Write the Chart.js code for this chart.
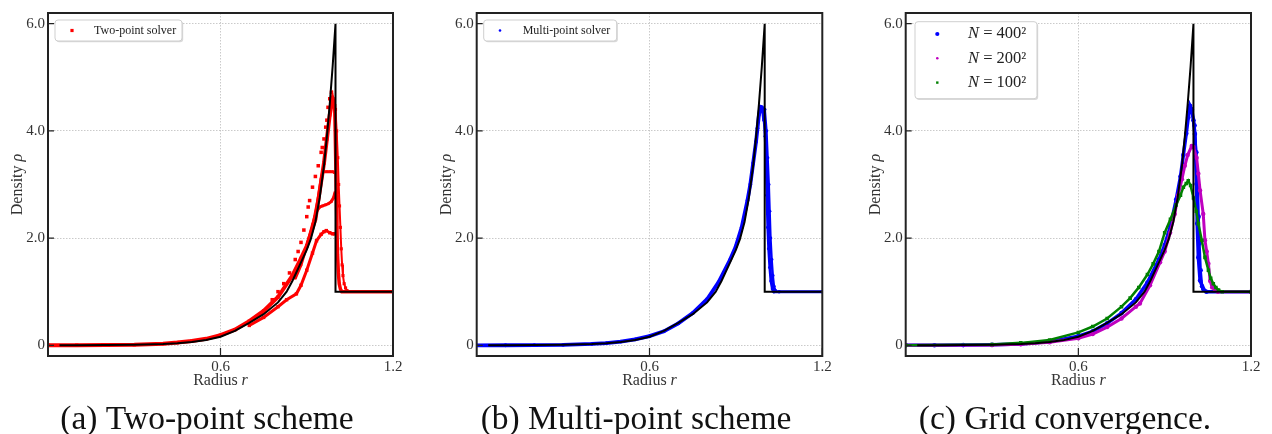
<!DOCTYPE html>
<html>
<head>
<meta charset="utf-8">
<script src="https://cdn.jsdelivr.net/npm/chart.js@4.4.1/dist/chart.umd.min.js"></script>
<style>
  html, body { margin: 0; padding: 0; background: #fff; overflow: hidden; }
  canvas { position: absolute; top: 0; }
</style>
</head>
<body>
<canvas id="panelA" style="left:0px" width="414" height="434"></canvas>
<canvas id="panelB" style="left:414px" width="444" height="434"></canvas>
<canvas id="panelC" style="left:858px" width="414" height="434"></canvas>
<script>
// axes
const xTicks = [0.6, 1.2];
const yTicks = [0, 2, 4, 6];

// exact solution (black line)
const exactR   = [0.04, 0.1, 0.2, 0.3, 0.4, 0.45, 0.5, 0.55, 0.6, 0.65, 0.7, 0.75, 0.8, 0.83, 0.85, 0.876, 0.9, 0.914, 0.93, 0.945, 0.96, 0.971, 0.98, 0.99, 1.0, 1.0, 1.2];
const exactRho = [0, 0.001, 0.003, 0.008, 0.022, 0.037, 0.062, 0.1, 0.16, 0.27, 0.42, 0.58, 0.8, 1.0, 1.2, 1.5, 1.78, 1.98, 2.3, 2.75, 3.35, 3.95, 4.5, 5.2, 6.0, 1.0, 1.0];

// (a) two-point solver, the branches of the scatter cloud
const twoMainR     = [0, 0.1, 0.2, 0.3, 0.4, 0.45, 0.5, 0.55, 0.6, 0.65, 0.7, 0.75, 0.8, 0.85, 0.88, 0.9, 0.93, 0.96, 0.97, 0.98, 0.99, 0.995];
const twoMainRho   = [0, 0.002, 0.004, 0.01, 0.03, 0.05, 0.08, 0.12, 0.19, 0.29, 0.45, 0.64, 0.9, 1.3, 1.62, 1.85, 2.35, 3.4, 3.85, 4.3, 4.6, 4.5];
const twoUpperR    = [0.78, 0.8, 0.82, 0.84, 0.86, 0.87, 0.88, 0.89, 0.9, 0.905, 0.91, 0.92, 0.93, 0.94, 0.95, 0.954, 0.96, 0.966, 0.97, 0.974, 0.98, 0.986, 0.99];
const twoUpperRho  = [0.85, 1.0, 1.15, 1.35, 1.6, 1.75, 1.92, 2.15, 2.4, 2.58, 2.7, 2.95, 3.15, 3.35, 3.6, 3.69, 3.85, 4.07, 4.2, 4.44, 4.6, 4.72, 4.6];
const twoFlatR     = [0.9, 0.92, 0.94, 0.95, 0.955, 0.96, 0.97, 0.98, 0.99, 0.997];
const twoFlatRho   = [1.85, 2.2, 2.75, 3.1, 3.22, 3.24, 3.24, 3.24, 3.24, 3.22];
const twoMidR      = [0.86, 0.88, 0.9, 0.92, 0.934, 0.945, 0.955, 0.965, 0.975, 0.985, 0.993, 0.998];
const twoMidRho    = [1.25, 1.5, 1.85, 2.25, 2.5, 2.58, 2.6, 2.62, 2.64, 2.68, 2.75, 2.85];
const twoLowR      = [0.7, 0.75, 0.8, 0.83, 0.864, 0.88, 0.9, 0.92, 0.934, 0.95, 0.96, 0.968, 0.98, 0.99, 0.997];
const twoLowRho    = [0.37, 0.52, 0.72, 0.85, 0.96, 1.12, 1.4, 1.72, 1.95, 2.07, 2.12, 2.14, 2.1, 2.08, 2.08];
const twoTailR     = [0.997, 0.999, 1.001, 1.003, 1.005, 1.007, 1.01, 1.013, 1.017, 1.022, 1.03, 1.04, 1.08, 1.2];
const twoTailRho   = [4.5, 4.0, 3.4, 2.8, 2.2, 1.7, 1.35, 1.15, 1.05, 1.0, 1.0, 1.0, 1.0, 1.0];
const twoOuterR    = [1.0, 1.004, 1.008, 1.011, 1.014, 1.017, 1.02, 1.023, 1.026, 1.03, 1.035, 1.04];
const twoOuterRho  = [4.4, 4.0, 3.5, 3.0, 2.6, 2.2, 1.8, 1.5, 1.3, 1.15, 1.07, 1.02];

// (b) multi-point solver
const multiR      = [0, 0.1, 0.2, 0.3, 0.4, 0.45, 0.5, 0.55, 0.6, 0.65, 0.7, 0.75, 0.8, 0.84, 0.88, 0.9, 0.92, 0.94, 0.95, 0.96, 0.97, 0.975, 0.98, 0.985, 0.99, 0.995, 0.998];
const multiRho    = [0, 0.001, 0.003, 0.008, 0.025, 0.04, 0.07, 0.11, 0.17, 0.26, 0.41, 0.6, 0.86, 1.18, 1.6, 1.85, 2.2, 2.7, 3.0, 3.4, 3.8, 4.05, 4.3, 4.45, 4.44, 4.35, 4.2];
const multiTailR   = [0.997, 1.002, 1.005, 1.008, 1.011, 1.014, 1.018, 1.022, 1.027, 1.032, 1.05, 1.2];
const multiTailRho = [4.3, 3.9, 3.4, 2.8, 2.2, 1.8, 1.45, 1.2, 1.05, 1.0, 1.0, 1.0];
const multiOuterR   = [1.0, 1.006, 1.01, 1.014, 1.017, 1.02, 1.024, 1.028, 1.032, 1.037];
const multiOuterRho = [4.4, 4.0, 3.5, 3.0, 2.5, 2.0, 1.6, 1.3, 1.1, 1.02];

// (c) grid convergence
const n400R   = [0, 0.1, 0.2, 0.3, 0.4, 0.5, 0.6, 0.65, 0.7, 0.75, 0.8, 0.84, 0.88, 0.9, 0.92, 0.94, 0.955, 0.965, 0.975, 0.982, 0.988, 0.994, 1.0, 1.005, 1.011, 1.013, 1.017, 1.023, 1.034, 1.045, 1.2];
const n400Rho = [0, 0.001, 0.003, 0.008, 0.024, 0.068, 0.17, 0.26, 0.41, 0.6, 0.86, 1.17, 1.6, 1.87, 2.22, 2.72, 3.15, 3.55, 3.95, 4.25, 4.47, 4.4, 4.2, 3.94, 3.01, 2.27, 1.64, 1.21, 1.05, 1.0, 1.0];
const n400OuterR   = [0.994, 1.004, 1.01, 1.015, 1.018, 1.021, 1.025, 1.03];
const n400OuterRho = [4.4, 4.1, 3.6, 3.0, 2.4, 1.9, 1.4, 1.1];
const n200R   = [0, 0.3, 0.4, 0.5, 0.6, 0.65, 0.7, 0.75, 0.8, 0.814, 0.849, 0.884, 0.9, 0.919, 0.935, 0.947, 0.96, 0.97, 0.98, 0.994, 1.0, 1.011, 1.017, 1.023, 1.034, 1.04, 1.046, 1.052, 1.058, 1.065, 1.075, 1.085, 1.2];
const n200Rho = [0, 0.006, 0.02, 0.055, 0.13, 0.21, 0.34, 0.5, 0.72, 0.78, 1.12, 1.55, 1.75, 2.1, 2.45, 2.8, 3.1, 3.35, 3.55, 3.72, 3.7, 3.5, 3.2, 2.89, 2.45, 1.96, 1.75, 1.52, 1.2, 1.08, 1.03, 1.0, 1.0];
const n100R   = [0, 0.3, 0.4, 0.5, 0.6, 0.65, 0.7, 0.75, 0.78, 0.81, 0.84, 0.86, 0.88, 0.9, 0.92, 0.94, 0.955, 0.965, 0.975, 0.982, 0.99, 1.0, 1.01, 1.017, 1.029, 1.04, 1.052, 1.06, 1.069, 1.078, 1.087, 1.1, 1.2];
const n100Rho = [0, 0.015, 0.045, 0.1, 0.24, 0.35, 0.5, 0.72, 0.88, 1.08, 1.32, 1.52, 1.75, 2.1, 2.35, 2.62, 2.8, 2.95, 3.02, 3.07, 2.98, 2.75, 2.5, 2.27, 1.96, 1.64, 1.4, 1.25, 1.15, 1.08, 1.03, 1.0, 1.0];

const serif = "'Liberation Serif', 'DejaVu Serif', serif";
const pts = (rs, vs) => rs.map((r, i) => ({ x: r, y: vs[i] }));

const exactSet = () => ({
  data: pts(exactR, exactRho), showLine: true, borderColor: '#000', borderWidth: 2,
  pointRadius: 0, order: 0
});
const cloud = (rs, vs, color, opt) => Object.assign({
  data: pts(rs, vs), showLine: true, borderColor: color, backgroundColor: color,
  pointBackgroundColor: color, pointBorderWidth: 0, borderWidth: 2.5,
  pointStyle: 'rect', pointRadius: 1.8, order: 1
}, opt || {});

function drawMixed(ctx, parts, cx, cy, baseline) {
  let w = 0;
  parts.forEach(p => { ctx.font = p[1]; w += ctx.measureText(p[0]).width; });
  let xx = cx - w / 2;
  ctx.textAlign = 'left';
  ctx.textBaseline = baseline || 'middle';
  parts.forEach(p => { ctx.font = p[1]; ctx.fillText(p[0], xx, cy); xx += ctx.measureText(p[0]).width; });
}

// frame, inward ticks, axis titles, caption and the boxed legend
const decor = {
  id: 'decor',
  afterDraw(chart, args, opts) {
    const { ctx, chartArea: a, scales: { x, y } } = chart;
    ctx.save();
    ctx.strokeStyle = '#222';
    ctx.lineWidth = 1.2;
    ctx.beginPath();
    x.ticks.forEach(t => { const px = x.getPixelForValue(t.value); ctx.moveTo(px, a.bottom); ctx.lineTo(px, a.bottom - 8); });
    y.ticks.forEach(t => { const py = y.getPixelForValue(t.value); ctx.moveTo(a.left, py); ctx.lineTo(a.left + 6, py); });
    ctx.stroke();
    ctx.lineWidth = 2;
    ctx.strokeRect(a.left, a.top, a.right - a.left, a.bottom - a.top);

    ctx.fillStyle = '#333';
    drawMixed(ctx, [['Radius ', '16px ' + serif], ['r', 'italic 16px ' + serif]], (a.left + a.right) / 2, a.bottom + 25);
    ctx.save();
    ctx.translate(a.left - 30, (a.top + a.bottom) / 2);
    ctx.rotate(-Math.PI / 2);
    drawMixed(ctx, [['Density ', '16px ' + serif], ['\u03c1', 'italic 16px ' + serif]], 0, 0);
    ctx.restore();

    // caption under the panel
    ctx.fillStyle = '#111';
    drawMixed(ctx, [[opts.caption, '33.5px ' + serif]], opts.capX, 429, 'alphabetic');

    // legend
    const bx = a.left + opts.dx, by = a.top + opts.dy;
    ctx.fillStyle = 'rgba(0,0,0,0.15)';
    ctx.beginPath(); ctx.roundRect(bx + 1.2, by + 1.2, opts.w, opts.h, 3); ctx.fill();
    ctx.fillStyle = '#fff';
    ctx.strokeStyle = '#cfcfcf';
    ctx.lineWidth = 1;
    ctx.beginPath(); ctx.roundRect(bx, by, opts.w, opts.h, 3); ctx.fill(); ctx.stroke();
    chart.data.datasets.filter(d => d.inLegend).forEach((d, i) => {
      const ry = by + opts.row0 + i * opts.rowH;
      const mx = bx + opts.markX;
      ctx.fillStyle = d.pointBackgroundColor;
      ctx.beginPath();
      if (d.pointStyle === 'circle') ctx.arc(mx, ry, d.legendR, 0, Math.PI * 2);
      else ctx.rect(mx - d.legendR, ry - d.legendR, d.legendR * 2, d.legendR * 2);
      ctx.fill();
      ctx.fillStyle = '#222';
      const fs = opts.fontSize + 'px ' + serif;
      let parts = [[d.label, fs]];
      if (d.label.startsWith('N ')) parts = [['N', 'italic ' + fs], [d.label.slice(1), fs]];
      let w = 0;
      parts.forEach(p => { ctx.font = p[1]; w += ctx.measureText(p[0]).width; });
      drawMixed(ctx, parts, bx + opts.textX + w / 2, ry);
    });
    ctx.restore();
  }
};

function panel(id, datasets, plotLeft, padRight, decorOpts) {
  return new Chart(document.getElementById(id), {
    type: 'scatter',
    data: { datasets },
    options: {
      responsive: false,
      animation: false,
      layout: { padding: { left: 0, right: padRight, top: 13, bottom: 34 } },
      scales: {
        x: {
          type: 'linear', min: 0, max: 1.2,
          afterBuildTicks: s => { s.ticks = xTicks.map(v => ({ value: v })); },
          afterFit: s => { s.height = 44; },
          ticks: { callback: v => v.toFixed(1), font: { family: serif, size: 15 }, color: '#333', padding: 2, maxRotation: 0 },
          grid: { color: '#bdbdbd', lineWidth: 0.8, drawTicks: false },
          border: { display: false, dash: [1.5, 1.5] }
        },
        y: {
          type: 'linear', min: -0.2, max: 6.2,
          afterBuildTicks: s => { s.ticks = yTicks.map(v => ({ value: v })); },
          afterFit: s => { s.width = plotLeft; },
          ticks: { callback: v => v === 0 ? '0' : v.toFixed(1), font: { family: serif, size: 15 }, color: '#333', padding: 3 },
          grid: { color: '#bdbdbd', lineWidth: 0.8, drawTicks: false },
          border: { display: false, dash: [1.5, 1.5] }
        }
      },
      plugins: {
        legend: { display: false },
        tooltip: { enabled: false },
        decor: decorOpts
      }
    },
    plugins: [decor]
  });
}

const red = '#ff0000', blue = '#0000ff', magenta = '#bf00bf', green = '#008000';

panel('panelA', [
  exactSet(),
  cloud(twoMainR, twoMainRho, red, { label: 'Two-point solver', inLegend: true, legendR: 1.6, borderWidth: 4, pointRadius: 2.4 }),
  cloud(twoUpperR, twoUpperRho, red, { showLine: false, pointRadius: 2.5 }),
  cloud(twoFlatR, twoFlatRho, red, { borderWidth: 3 }),
  cloud(twoMidR, twoMidRho, red, { borderWidth: 3 }),
  cloud(twoLowR, twoLowRho, red, { borderWidth: 3, pointRadius: 2.4 }),
  cloud(twoTailR, twoTailRho, red, { borderWidth: 3.5 }),
  cloud(twoOuterR, twoOuterRho, red, { borderWidth: 2, pointRadius: 2.2 })
], 48, 21, { caption: '(a) Two-point scheme', capX: 207, dx: 7, dy: 7, w: 127, h: 21, row0: 10.5, rowH: 0, markX: 17, textX: 39, fontSize: 12 });

panel('panelB', [
  exactSet(),
  cloud(multiR, multiRho, blue, { label: 'Multi-point solver', inLegend: true, legendR: 1.3, pointStyle: 'circle', pointRadius: 1.9, borderWidth: 3.8 }),
  cloud(multiTailR, multiTailRho, blue, { pointStyle: 'circle', pointRadius: 1.8, borderWidth: 3 }),
  cloud(multiOuterR, multiOuterRho, blue, { pointStyle: 'circle', pointRadius: 1.8, borderWidth: 2.5 })
], 62.7, 35.7, { caption: '(b) Multi-point scheme', capX: 222, dx: 7, dy: 7, w: 133, h: 21, row0: 10.5, rowH: 0, markX: 16.3, textX: 39, fontSize: 12 });

panel('panelC', [
  exactSet(),
  cloud(n100R, n100Rho, green, { label: 'N = 100\u00b2', inLegend: true, legendR: 1.2, pointRadius: 2.5, borderWidth: 2.5, order: 1 }),
  cloud(n200R, n200Rho, magenta, { label: 'N = 200\u00b2', inLegend: true, legendR: 1.3, pointStyle: 'circle', pointRadius: 2.2, borderWidth: 3, order: 2 }),
  cloud(n400R, n400Rho, blue, { label: 'N = 400\u00b2', inLegend: true, legendR: 2.1, pointStyle: 'circle', pointRadius: 2.3, borderWidth: 3.5, order: 3 }),
  cloud(n400OuterR, n400OuterRho, blue, { pointStyle: 'circle', pointRadius: 2.3, borderWidth: 2.5, order: 3 })
].sort((p, q) => (q.order === 0 ? -1 : 0) || (q.order - p.order)), 47.7, 21, { caption: '(c) Grid convergence.', capX: 207, dx: 9.3, dy: 8.7, w: 122, h: 77, row0: 12.3, rowH: 24.3, markX: 22.3, textX: 53, fontSize: 16.5 });
</script>
</body>
</html>
